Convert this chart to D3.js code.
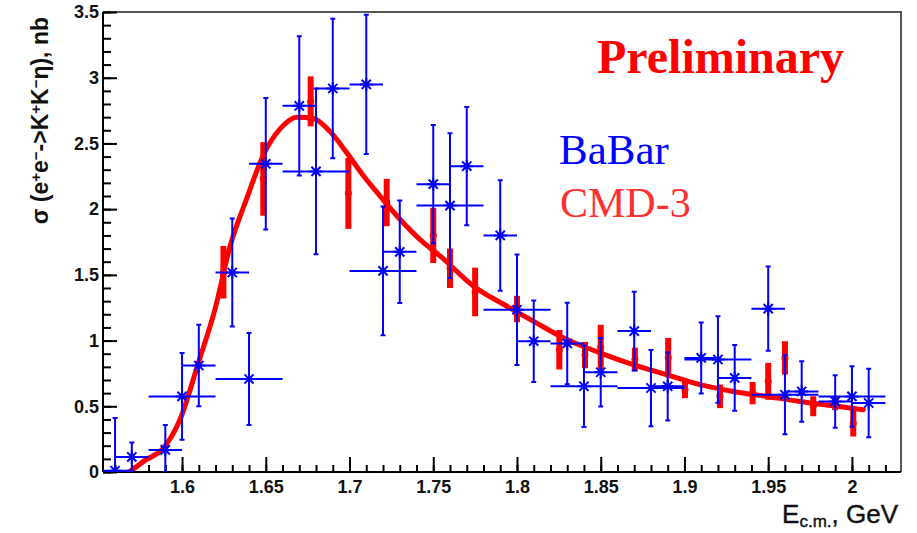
<!DOCTYPE html>
<html>
<head>
<meta charset="utf-8">
<script src="https://cdn.jsdelivr.net/npm/d3@7"></script>
<style>
  body { margin: 0; background: #fff; }
  svg { display: block; }
</style>
</head>
<body>
<svg id="chart" width="917" height="533"></svg>
<script>
// BaBar e+e- -> K+K-eta cross section (nb): energy, value, half bin width, error
const babarE    = [1.56, 1.57, 1.59, 1.60, 1.61, 1.63, 1.64, 1.65, 1.67, 1.68, 1.69, 1.71,
                   1.72, 1.73, 1.75, 1.76, 1.77, 1.79, 1.80, 1.81, 1.83, 1.84, 1.85, 1.87,
                   1.88, 1.89, 1.91, 1.92, 1.93, 1.95, 1.96, 1.97, 1.99, 2.00, 2.01];
const babarSigma = [0.01, 0.115, 0.168, 0.575, 0.81, 1.518, 0.708, 2.345, 2.786, 2.287, 2.918, 2.949,
                   1.53, 1.675, 2.19, 2.027, 2.327, 1.80, 1.235, 0.995, 0.978, 0.652, 0.759, 1.072,
                   0.639, 0.652, 0.868, 0.856, 0.716, 1.243, 0.588, 0.613, 0.537, 0.575, 0.525];
const babarDE   = [0.01, 0.01, 0.01, 0.02, 0.01, 0.01, 0.02, 0.01, 0.01, 0.02, 0.01, 0.01,
                   0.02, 0.01, 0.01, 0.02, 0.01, 0.01, 0.02, 0.01, 0.01, 0.02, 0.01, 0.01,
                   0.02, 0.01, 0.01, 0.02, 0.01, 0.01, 0.02, 0.01, 0.01, 0.02, 0.01];
const babarErr  = [0.40, 0.11, 0.19, 0.33, 0.31, 0.41, 0.35, 0.50, 0.53, 0.63, 0.53, 0.53,
                   0.49, 0.39, 0.45, 0.55, 0.45, 0.42, 0.42, 0.31, 0.31, 0.31, 0.26, 0.30,
                   0.29, 0.26, 0.27, 0.33, 0.25, 0.32, 0.30, 0.23, 0.20, 0.23, 0.26];

// CMD-3 cross section (nb): energy, value, error
const cmdE     = [1.6247, 1.6485, 1.6768, 1.6993, 1.7222, 1.75, 1.76, 1.775, 1.80, 1.8253, 1.8406,
                  1.85, 1.8704, 1.8903, 1.9003, 1.9212, 1.9407, 1.95, 1.96, 1.9769, 1.99, 2.0008];
const cmdSigma = [1.52, 2.23, 2.82, 2.12, 2.05, 1.80, 1.55, 1.37, 1.24, 0.93, 0.89,
                  0.95, 0.856, 0.87, 0.627, 0.576, 0.60, 0.69, 0.868, 0.50, 0.52, 0.37];
const cmdErr   = [0.20, 0.28, 0.19, 0.27, 0.18, 0.21, 0.15, 0.185, 0.10, 0.15, 0.10,
                  0.17, 0.09, 0.15, 0.065, 0.09, 0.085, 0.14, 0.127, 0.076, 0.05, 0.10];

// CMD-3 fit curve, sampled
const fitE     = [1.568, 1.570, 1.578, 1.588, 1.5988, 1.6097, 1.6197, 1.6287, 1.6386, 1.6485,
                  1.6585, 1.6685, 1.6784, 1.6884, 1.6983, 1.7082, 1.7182, 1.7282, 1.744, 1.754,
                  1.7739, 1.7938, 1.8097, 1.8297, 1.8496, 1.8694, 1.8894, 1.9093, 1.9292, 1.9491,
                  1.969, 1.989, 2.0068];
const fitSigma = [0.0, 0.015, 0.09, 0.17, 0.40, 0.83, 1.24, 1.72, 2.08, 2.41,
                  2.61, 2.70, 2.69, 2.59, 2.43, 2.256, 2.10, 1.95, 1.747, 1.645,
                  1.416, 1.263, 1.148, 1.008, 0.907, 0.817, 0.741, 0.665, 0.613, 0.575,
                  0.537, 0.504, 0.474];

// axis ticks
const xMajor = [1.6, 1.65, 1.7, 1.75, 1.8, 1.85, 1.9, 1.95, 2.0];
const xLabels = ["1.6", "1.65", "1.7", "1.75", "1.8", "1.85", "1.9", "1.95", "2"];
const yMajor = [0, 0.5, 1, 1.5, 2, 2.5, 3, 3.5];
const yLabels = ["0", "0.5", "1", "1.5", "2", "2.5", "3", "3.5"];

const svg = d3.select("#chart");
const L = 103, R = 901, T = 12, B = 472;
const x = d3.scaleLinear().domain([1.5528, 2.0293]).range([L, R]);
const y = d3.scaleLinear().domain([0, 3.5]).range([B, T]);

const BLUE = "#0000ff", RED = "#ff0000";
const tickFont = "'Liberation Sans', Arial, sans-serif";

svg.append("defs").append("clipPath").attr("id", "plot")
  .append("rect").attr("x", L).attr("y", T).attr("width", R - L).attr("height", B - T);

// frame (top and right sides)
svg.append("path")
  .attr("d", `M${L},${T}H${R}V${B}`)
  .attr("fill", "none").attr("stroke", "#555").attr("stroke-width", 2);

// minor ticks
const xMinor = d3.range(156, 203).map(i => i / 100).filter(v => v >= 1.5528 && v <= 2.0293);
const yMinor = d3.range(0, 36).map(i => i / 10);

svg.append("g").attr("transform", `translate(0,${B})`)
  .call(d3.axisBottom(x).tickValues(xMinor).tickSize(-7).tickFormat(""))
  .call(g => g.select(".domain").remove())
  .selectAll("line").attr("stroke", "#000").attr("stroke-width", 2);

svg.append("g").attr("transform", `translate(${L},0)`)
  .call(d3.axisLeft(y).tickValues(yMinor).tickSize(-8).tickFormat(""))
  .call(g => g.select(".domain").remove())
  .selectAll("line").attr("stroke", "#000").attr("stroke-width", 2);

// major x axis
const gx = svg.append("g").attr("transform", `translate(0,${B})`)
  .call(d3.axisBottom(x).tickValues(xMajor).tickSize(-15).tickPadding(8)
        .tickFormat((d, i) => xLabels[i]));
gx.select(".domain").attr("d", `M${L},0H${R}`).attr("stroke", "#000").attr("stroke-width", 2);
gx.selectAll("line").attr("stroke", "#000").attr("stroke-width", 2);
gx.selectAll("text").attr("font-family", tickFont).attr("font-weight", "bold")
  .attr("font-size", 18).attr("fill", "#111");

// major y axis
const gy = svg.append("g").attr("transform", `translate(${L},0)`)
  .call(d3.axisLeft(y).tickValues(yMajor).tickSize(-14).tickPadding(4)
        .tickFormat((d, i) => yLabels[i]));
gy.select(".domain").attr("d", `M0,${B}V${T}`).attr("stroke", "#000").attr("stroke-width", 2);
gy.selectAll("line").attr("stroke", "#000").attr("stroke-width", 2);
gy.selectAll("text").attr("font-family", tickFont).attr("font-weight", "bold")
  .attr("font-size", 18).attr("fill", "#111");

const plot = svg.append("g").attr("clip-path", "url(#plot)");

// CMD-3 fit curve
const fit = fitE.map((e, i) => [e, fitSigma[i]]);
plot.append("path")
  .datum(fit)
  .attr("d", d3.line().x(d => x(d[0])).y(d => y(d[1])).curve(d3.curveMonotoneX))
  .attr("fill", "none").attr("stroke", RED).attr("stroke-width", 5)
  .attr("stroke-linecap", "round");

// CMD-3 points
const cmd = cmdE.map((e, i) => ({ e, s: cmdSigma[i], err: cmdErr[i] }));
const gc = plot.append("g");
gc.selectAll("line").data(cmd).join("line")
  .attr("x1", d => x(d.e)).attr("x2", d => x(d.e))
  .attr("y1", d => y(d.s - d.err)).attr("y2", d => y(d.s + d.err))
  .attr("stroke", RED).attr("stroke-width", 6);
gc.selectAll("circle").data(cmd).join("circle")
  .attr("cx", d => x(d.e)).attr("cy", d => y(d.s)).attr("r", 3.5)
  .attr("fill", RED);

// BaBar points
const babar = babarE.map((e, i) => ({ e, s: babarSigma[i], de: babarDE[i], err: babarErr[i] }));
const gb = plot.append("g").attr("stroke", BLUE).attr("fill", "none");
gb.selectAll("path.err").data(babar).join("path").attr("class", "err")
  .attr("stroke-width", 2)
  .attr("d", d => {
    const cx = x(d.e), cy = y(d.s);
    const lo = y(Math.max(d.s - d.err, 0)), hi = y(d.s + d.err);
    return `M${x(d.e - d.de)},${cy}H${x(d.e + d.de)}` +
           `M${cx},${lo}V${hi}` +
           `M${cx - 2.5},${hi}H${cx + 2.5}` +
           `M${cx - 2.5},${lo}H${cx + 2.5}`;
  });
gb.selectAll("path.star").data(babar).join("path").attr("class", "star")
  .attr("stroke-width", 2)
  .attr("transform", d => `translate(${x(d.e)},${y(d.s)})`)
  .attr("d", "M-6.5,0H6.5M0,-6.5V6.5M-4.6,-4.6L4.6,4.6M-4.6,4.6L4.6,-4.6");

// axis titles
const yt = svg.append("text")
  .attr("transform", "translate(48,17) rotate(-90)")
  .attr("text-anchor", "end")
  .attr("font-family", tickFont).attr("font-weight", "bold").attr("font-size", 23)
  .attr("fill", "#111");
[["σ (e", 0], ["+", 1], ["e", 0], ["−", 1], ["->K", 0], ["+", 1], ["K", 0], ["−", 1], ["η), nb", 0]]
  .forEach(([t, sup]) => {
    yt.append("tspan")
      .attr("baseline-shift", sup ? "45%" : null)
      .attr("font-size", sup ? 15 : null)
      .text(t);
  });

const xt = svg.append("text")
  .attr("x", 898).attr("y", 523).attr("text-anchor", "end")
  .attr("font-family", tickFont).attr("font-size", 26).attr("fill", "#111")
  .attr("stroke", "#111").attr("stroke-width", 0.4);
xt.append("tspan").text("E");
xt.append("tspan").attr("font-size", 17).attr("baseline-shift", "-25%").text("c.m.");
xt.append("tspan").text(", GeV");

// legend and stamp
const serif = "'Liberation Serif', 'Times New Roman', serif";
svg.append("text").attr("x", 597).attr("y", 73)
  .attr("font-family", serif).attr("font-weight", "bold").attr("font-size", 48)
  .attr("fill", RED).text("Preliminary");
svg.append("text").attr("x", 559).attr("y", 164)
  .attr("font-family", serif).attr("font-size", 43)
  .attr("fill", BLUE).text("BaBar");
svg.append("text").attr("x", 560).attr("y", 217)
  .attr("font-family", serif).attr("font-size", 42)
  .attr("fill", "#ff3030").text("CMD-3");
</script>
</body>
</html>
